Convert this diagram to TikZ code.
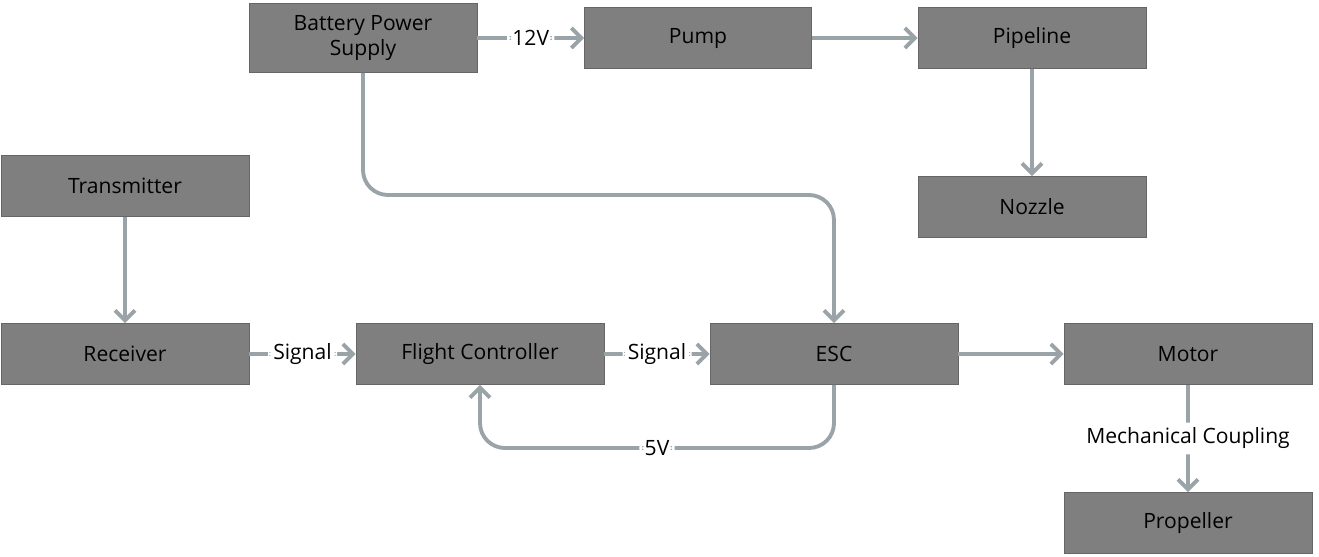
\documentclass[tikz,border=0pt]{standalone}
\usepackage{fontspec}
\setmainfont{Open Sans}
\usetikzlibrary{arrows.meta,positioning}
\definecolor{boxgray}{HTML}{7F7F7F}
\definecolor{linkgray}{HTML}{9AA3A8}
\begin{document}
\begin{tikzpicture}[x=0.02cm,y=-0.02cm,
  block/.style={draw=boxgray!80!black, fill=boxgray, minimum width=4.96cm, minimum height=1.22cm, align=center, font=\large, inner sep=0pt},
  link/.style={draw=linkgray, line width=2.2pt, rounded corners=0.5cm, -{Straight Barb[length=2mm,width=4mm]}},
  lbl/.style={fill=white, font=\large, inner sep=3pt}]
\useasboundingbox (0,0) rectangle (1319,556);

% The blocks
\node (battery) [block, minimum height=1.38cm, minimum width=4.56cm] at (363,38) {Battery Power\\Supply};
\node (pump) [block, minimum width=4.54cm] at (698,38) {Pump};
\node (pipeline) [block, minimum width=4.56cm] at (1032,38) {Pipeline};
\node (nozzle) [block, minimum width=4.56cm] at (1032,207) {Nozzle};
\node (transmitter) [block] at (125,186) {Transmitter};
\node (receiver) [block] at (125,354) {Receiver};
\node (fc) [block] at (480,354) {Flight Controller};
\node (esc) [block] at (834,354) {ESC};
\node (motor) [block] at (1188,354) {Motor};
\node (propeller) [block] at (1188,523) {Propeller};

% The connectors
\draw [link] (battery) -- node[lbl] {12V} (pump);
\draw [link] (pump) -- (pipeline);
\draw [link] (pipeline) -- (nozzle);
\draw [link] (transmitter) -- (receiver);
\draw [link] (receiver) -- node[lbl] {Signal} (fc);
\draw [link] (fc) -- node[lbl] {Signal} (esc);
\draw [link] (esc) -- (motor);
\draw [link] (motor) -- node[lbl] {Mechanical Coupling} (propeller);
\draw [link] (battery.south) -- (363,195) -- (834,195) -- (esc.north);
\draw [link] (esc.south) -- (834,448) -- node[lbl] {5V} (480,448) -- (fc.south);
\end{tikzpicture}
\end{document}
